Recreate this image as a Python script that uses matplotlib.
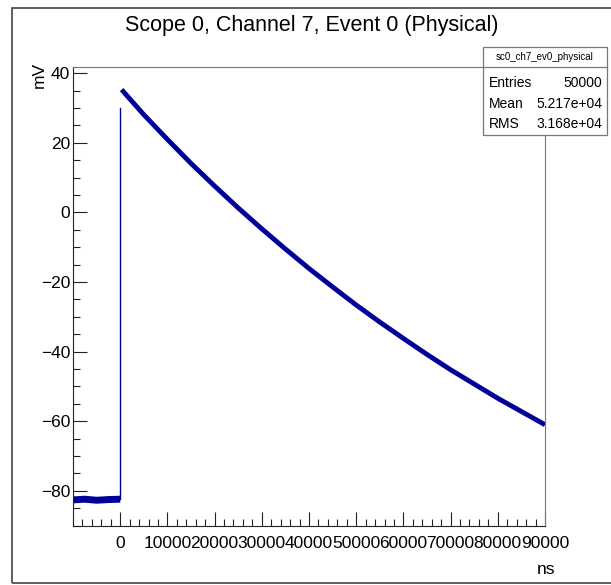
import matplotlib
matplotlib.use("Agg")
import matplotlib.pyplot as plt
from matplotlib.patches import Rectangle
from matplotlib.lines import Line2D
from matplotlib.ticker import MultipleLocator

# waveform (ns, mV)
base_t = [-10000, -7500, -5000, -2500, 0]
base_v = [-82.6, -82.4, -82.7, -82.5, -82.4]
rise_t = [0, 0]
rise_v = [-82.4, 30.0]
decay_t = [300, 5000, 10000, 15000, 20000, 25000, 30000, 35000, 40000, 45000,
           50000, 55000, 60000, 65000, 70000, 75000, 80000, 85000, 90000]
decay_v = [35.3, 28.1, 21.0, 14.1, 7.6, 1.3, -4.7, -10.5, -16.1, -21.4,
           -26.6, -31.5, -36.2, -40.8, -45.2, -49.3, -53.4, -57.2, -61.0]

title = "Scope 0, Channel 7, Event 0 (Physical)"
stat_name = "sc0_ch7_ev0_physical"
stat_rows = [("Entries", "50000"), ("Mean", "5.217e+04"), ("RMS", "3.168e+04")]

plt.rcParams['font.family'] = ['Liberation Sans', 'DejaVu Sans']
W, H = 611, 585
fig = plt.figure(figsize=(W/100, H/100), dpi=100)
ax = fig.add_axes([73/W, 1-526/H, (545-73)/W, (526-67)/H])

col = '#000099'
ax.plot(base_t, base_v, color=col, lw=5, solid_capstyle='butt')
ax.plot(rise_t, rise_v, color=col, lw=1)
ax.plot(decay_t, decay_v, color=col, lw=3.5, solid_capstyle='butt')

ax.xaxis.set_minor_locator(MultipleLocator(2000))
ax.yaxis.set_major_locator(MultipleLocator(20))
ax.yaxis.set_minor_locator(MultipleLocator(5))
ax.set_xticks(range(0, 90001, 10000))
ax.set_xticklabels([str(v) for v in range(0, 90001, 10000)])
ax.set_xlim(-10000, 90000)
ax.set_ylim(-90.1, 41.8)
ax.tick_params(which='both', direction='in', top=False, right=False, labelsize=12.5, color='#222')
ax.tick_params(which='major', length=10, width=0.8)
ax.tick_params(which='minor', length=5, width=0.8)
ax.tick_params(axis='x', pad=7)
ax.tick_params(axis='y', pad=2)
for s in ['top', 'right']:
    ax.spines[s].set_color('#777')
for s in ['left', 'bottom']:
    ax.spines[s].set_color('#222')

# outer pad frame
fig.add_artist(Rectangle((12/W, 1-583/H), 1.2, (583-7.5)/H, transform=fig.transFigure,
                         fill=False, edgecolor='#444', lw=1.2))

fig.text(312/W, 1-25/H, title, ha='center', va='center', fontsize=15.5)
fig.text(39/W, 1-75/H, "mV", rotation=90, ha='center', va='center', fontsize=12.5)
fig.text(546/W, 1-569/H, "ns", ha='center', va='center', fontsize=12.5)

# stats box
x0, x1, yt, yb = 483/W, 607/W, 1-47/H, 1-135/H
fig.add_artist(Rectangle((x0, yb), x1-x0, yt-yb, transform=fig.transFigure,
                         facecolor='white', edgecolor='#777', lw=0.9, zorder=5))
fig.add_artist(Line2D([x0, x1], [1-67/H, 1-67/H], transform=fig.transFigure,
                      color='#777', lw=0.9, zorder=6))
fig.text((x0+x1)/2, 1-57/H, stat_name, ha='center', va='center', fontsize=7, zorder=7)
row_y = [83, 104, 124]
for (k, v), yy in zip(stat_rows, row_y):
    fig.text(489/W, 1-yy/H, k, ha='left', va='center', fontsize=10, zorder=7)
    fig.text(602/W, 1-yy/H, v, ha='right', va='center', fontsize=10, zorder=7)

fig.savefig("out.png", dpi=100)
